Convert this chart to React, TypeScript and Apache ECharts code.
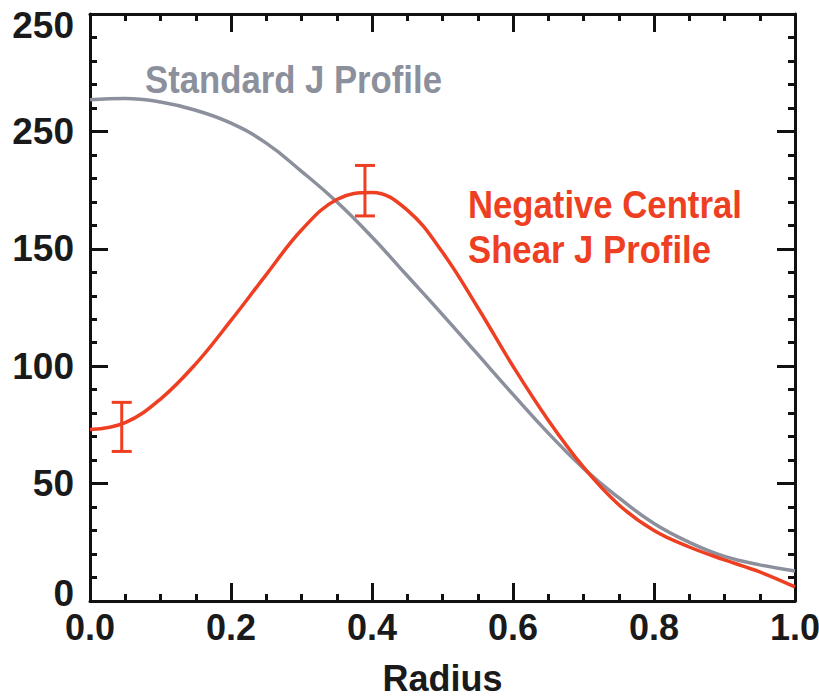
import React, { useEffect, useRef } from "react";
import * as echarts from "echarts";

const yTickLabels = ["0", "50", "100", "150", "250", "250"];

const radius = [0, 0.05, 0.1, 0.15, 0.2, 0.25, 0.3, 0.35, 0.4, 0.45, 0.5, 0.55, 0.6, 0.65, 0.7, 0.75, 0.8, 0.85, 0.9, 0.95, 1.0];
const standardJ = [213.5, 214, 212.5, 209, 203.5, 195, 183, 170, 155, 138.5, 122, 105, 88, 71.5, 56.5, 44, 33, 25, 19, 15.4, 12.8];
const negativeShearJ = [73, 76, 86, 101, 119.5, 139, 158, 171, 174, 166.5, 148.5, 125, 100, 77, 57, 41, 30, 23, 17.5, 12.4, 6];

const errorBars = [
  [0.045, 63.7, 84.6],
  [0.39, 164, 185.5],
];

const RED = "#ee3f23";
const GRAY = "#8b909c";
const FONT = "'Liberation Sans', Arial, sans-serif";

export default function App() {
  const ref = useRef<HTMLDivElement>(null);
  useEffect(() => {
    if (!ref.current) return;
    const chart = echarts.init(ref.current, null, { renderer: "svg" });
    const tickStyle = { color: "#111", width: 3 };
    const labelText = { fontFamily: FONT, fontWeight: "bold", fontSize: 37, color: "#1a1a1a" };

    const xAxis = (position: string, major: boolean, extra: any = {}) => ({
      type: "value",
      min: 0,
      max: 1,
      interval: major ? 0.2 : 0.05,
      position,
      axisLine: { show: major, onZero: false, lineStyle: { color: "#111", width: 3 } },
      axisTick: { show: true, inside: true, length: major ? 18 : 7, lineStyle: tickStyle },
      axisLabel: { show: false },
      splitLine: { show: false },
      ...extra,
    });
    const yAxis = (position: string, major: boolean, extra: any = {}) => ({
      type: "value",
      min: 0,
      max: 250,
      interval: major ? 50 : 10,
      position,
      axisLine: { show: major, onZero: false, lineStyle: { color: "#111", width: 3 } },
      axisTick: { show: true, inside: true, length: major ? 18 : 7, lineStyle: tickStyle },
      axisLabel: { show: false },
      splitLine: { show: false },
      ...extra,
    });

    chart.setOption({
      animation: false,
      grid: { left: 90, right: 24, top: 14, bottom: 98, containLabel: false, outerBoundsMode: "none" },
      xAxis: [
        xAxis("bottom", true, {
          name: "Radius",
          nameLocation: "middle",
          nameGap: 59,
          nameTextStyle: { fontFamily: FONT, fontWeight: "bold", fontSize: 36, color: "#1a1a1a" },
          axisLabel: {
            show: true,
            margin: 8,
            ...labelText,
            fontSize: 36,
            formatter: (v: number) => v.toFixed(1),
          },
        }),
        xAxis("bottom", false),
        xAxis("top", true),
        xAxis("top", false),
      ],
      yAxis: [
        yAxis("left", true, {
          axisLabel: {
            show: true,
            margin: 16,
            ...labelText,
            formatter: (v: number) => {
              const i = Math.round(v / 50);
              const t = yTickLabels[i] ?? "";
              if (i === yTickLabels.length - 1) return `{top|${t}}`;
              if (i === 0) return `{bot|${t}}`;
              return t;
            },
            rich: {
              top: { ...labelText, padding: [22, 0, 0, 0] },
              bot: { ...labelText, padding: [0, 0, 16, 0] },
            },
          },
        }),
        yAxis("left", false),
        yAxis("right", true),
        yAxis("right", false),
      ],
      series: [
        {
          type: "line",
          name: "Standard J Profile",
          xAxisIndex: 0,
          yAxisIndex: 0,
          data: radius.map((r, i) => [r, standardJ[i]]),
          smooth: 0.45,
          showSymbol: false,
          lineStyle: { color: GRAY, width: 3.5 },
          z: 2,
        },
        {
          type: "line",
          name: "Negative Central Shear J Profile",
          xAxisIndex: 0,
          yAxisIndex: 0,
          data: radius.map((r, i) => [r, negativeShearJ[i]]),
          smooth: 0.4,
          showSymbol: false,
          lineStyle: { color: RED, width: 3.5 },
          z: 3,
        },
        {
          type: "custom",
          name: "error",
          xAxisIndex: 0,
          yAxisIndex: 0,
          data: errorBars,
          z: 4,
          renderItem: (params: any, api: any) => {
            const x = api.value(0);
            const top = api.coord([x, api.value(2)]);
            const bot = api.coord([x, api.value(1)]);
            const w = 10;
            const style = { stroke: RED, lineWidth: 3 };
            return {
              type: "group",
              children: [
                { type: "line", shape: { x1: top[0], y1: top[1], x2: bot[0], y2: bot[1] }, style },
                { type: "line", shape: { x1: top[0] - w, y1: top[1], x2: top[0] + w, y2: top[1] }, style },
                { type: "line", shape: { x1: bot[0] - w, y1: bot[1], x2: bot[0] + w, y2: bot[1] }, style },
              ],
            };
          },
        },
      ],
      graphic: [
        {
          type: "text",
          x: 145,
          y: 60,
          scaleX: 0.89,
          style: { text: "Standard J Profile", fill: GRAY, font: `bold 39px ${FONT}` },
        },
        {
          type: "text",
          x: 468,
          y: 185,
          scaleX: 0.89,
          style: { text: "Negative Central", fill: RED, font: `bold 39px ${FONT}` },
        },
        {
          type: "text",
          x: 468,
          y: 230,
          scaleX: 0.89,
          style: { text: "Shear J Profile", fill: RED, font: `bold 39px ${FONT}` },
        },
      ],
    });
    return () => chart.dispose();
  }, []);
  return <div ref={ref} style={{ position: "absolute", left: 0, top: 0, width: 819, height: 699 }} />;
}
